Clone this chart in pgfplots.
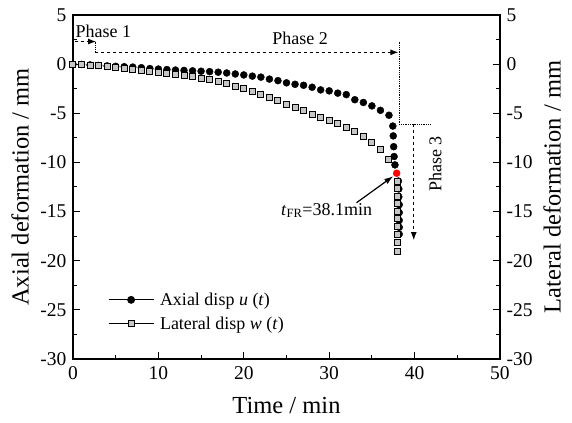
\documentclass[border=0pt]{standalone}
\usepackage{fontspec}
\setmainfont{Liberation Serif}
\usepackage{pgfplots}
\usepackage{pgfplotstable}
\pgfplotsset{compat=1.18}
\usetikzlibrary{arrows.meta,calc}

\pgfplotstableread{
t u
0 0
1 -0.03
2 -0.08
3 -0.13
4 -0.18
5 -0.22
6 -0.26
7 -0.30
8 -0.36
9 -0.45
10 -0.50
11 -0.55
12 -0.60
13 -0.64
14 -0.68
15 -0.72
16 -0.76
17 -0.82
18 -0.90
19 -1.00
20 -1.10
21 -1.22
22 -1.32
23 -1.52
24 -1.68
25 -1.90
26 -2.05
27 -2.15
28 -2.35
29 -2.62
30 -2.72
31 -2.95
32 -3.10
33 -3.62
34 -3.90
35 -4.25
36 -4.70
37 -5.20
37.45 -6.30
37.5 -7.30
37.55 -8.40
37.6 -9.40
37.7 -10.25
38.1 -11.90
38.15 -12.70
38.15 -13.50
38.2 -14.30
38.2 -15.10
38.2 -15.90
38.2 -16.60
38.2 -17.30
}\axial

\pgfplotstableread{
t w
0 0
1 -0.05
2 -0.10
3 -0.18
4 -0.26
5 -0.34
6 -0.42
7 -0.50
8 -0.60
9 -0.75
10 -0.85
11 -0.95
12 -1.05
13 -1.15
14 -1.27
15 -1.42
16 -1.60
17 -1.80
18 -2.02
19 -2.27
20 -2.52
21 -2.82
22 -3.12
23 -3.44
24 -3.75
25 -4.08
26 -4.42
27 -4.76
28 -5.12
29 -5.47
30 -5.78
31 -6.08
32 -6.40
33 -6.85
34 -7.38
35 -8.00
36 -8.72
37 -9.70
38 -11.95
38 -12.70
38 -13.45
38 -14.15
38 -15.00
38 -15.75
38 -16.50
38 -17.30
38 -18.10
38 -19.10
}\lateral

\begin{document}
\begin{tikzpicture}
\begin{axis}[
  scale only axis, width=427bp, height=344bp,
  xmin=0, xmax=50, ymin=-30, ymax=5,
  xtick={0,10,...,50}, ytick={-30,-25,...,5},
  minor x tick num=1, minor y tick num=1,
  tick align=inside, xtick pos=bottom, ytick pos=left,
  major tick length=7bp, minor tick length=4bp,
  axis line style={line width=1.2bp},
  every tick/.style={line width=1bp, black},
  tick label style={font=\fontsize{19.5bp}{22bp}\selectfont},
  xticklabel style={yshift=-4bp},
  yticklabel style={xshift=-3bp},
  /pgf/number format/assume math mode=true,
  xlabel={Time / min}, ylabel={Axial deformation / mm},
  label style={font=\fontsize{24.5bp}{27bp}\selectfont},
  xlabel style={at={(axis description cs:0.5,-0.134)}, anchor=center},
  ylabel style={at={(axis description cs:-0.124,0.5)}, anchor=center},
  legend image code/.code={\draw[mark repeat=2,mark phase=2,#1] plot coordinates {(0bp,0bp) (22.5bp,0bp) (45bp,0bp)};},
  legend style={draw=none, fill=none, inner sep=0pt,
    font=\fontsize{18bp}{21bp}\selectfont,
    at={(axis cs:4.1,-25.2)}, anchor=west, row sep=6bp, column sep=4bp},
  legend cell align=left,
]
\coordinate (sw) at (rel axis cs:0,0);
\coordinate (ne) at (rel axis cs:1,1);

\addlegendimage{black, line width=0.8bp, mark=*, mark size=3.5bp}
\addlegendentry{Axial disp \textit{u} (\textit{t})}
\addlegendimage{black, line width=0.8bp, mark=square*, mark size=3bp, mark options={fill=gray!45, draw=black, line width=1bp}}
\addlegendentry{Lateral disp \textit{w} (\textit{t})}

\addplot[forget plot, only marks, mark=*, mark size=3.5bp, black] table[x=t,y=u] {\axial};
\addplot[forget plot, only marks, mark=square*, mark size=3bp, mark options={fill=gray!45, draw=black, line width=1bp}] table[x=t,y=w] {\lateral};
\addplot[forget plot, only marks, mark=*, mark size=3.5bp, red] coordinates {(37.9,-11.1)};

\draw[dashed, line width=1bp, -{Latex[length=8bp,width=6bp]}] (axis cs:0.2,2.3) -- (axis cs:2.7,2.3);
\draw[densely dotted, line width=0.8bp] (axis cs:2.6,2.3) -- (axis cs:2.6,1.2);
\draw[dashed, line width=1bp, -{Latex[length=8bp,width=6bp]}] (axis cs:2.6,1.2) -- (axis cs:38.1,1.2);
\draw[densely dotted, line width=0.8bp] (axis cs:38.2,2.3) -- (axis cs:38.2,-6.1) -- (axis cs:41.8,-6.1);
\draw[dashed, line width=1bp, -{Latex[length=8bp,width=6bp]}] (axis cs:39.9,-6.1) -- (axis cs:39.9,-17.9);
\draw[line width=1.2bp, -{Latex[length=9bp,width=6bp]}] (axis cs:33.2,-14.1) -- (axis cs:37.5,-11.4);

\node[font=\fontsize{18bp}{21bp}\selectfont] at (axis cs:3.55,3.3) {Phase 1};
\node[font=\fontsize{18bp}{21bp}\selectfont] at (axis cs:26.6,2.6) {Phase 2};
\node[font=\fontsize{18bp}{21bp}\selectfont, rotate=90] at (axis cs:42.4,-10.15) {Phase 3};
\node[font=\fontsize{18bp}{21bp}\selectfont] at (axis cs:29.7,-14.9) {\textit{t}\textsubscript{FR}=38.1min};
\end{axis}

\begin{axis}[
  scale only axis, width=427bp, height=344bp,
  xmin=0, xmax=50, ymin=-30, ymax=5,
  axis x line=none, axis y line*=right,
  ytick={-30,-25,...,5}, minor y tick num=1,
  tick align=inside,
  major tick length=7bp, minor tick length=4bp,
  axis line style={line width=1.2bp},
  every tick/.style={line width=1bp, black},
  tick label style={font=\fontsize{19.5bp}{22bp}\selectfont},
  yticklabel style={xshift=3bp},
  /pgf/number format/assume math mode=true,
  ylabel={Lateral deformation / mm},
  label style={font=\fontsize{24.5bp}{27bp}\selectfont},
  ylabel style={at={(axis description cs:1.122,0.5)}, anchor=center},
]
\end{axis}
\pgfresetboundingbox
\path ($(sw)+(-73bp,-64bp)$) rectangle ($(ne)+(72bp,15bp)$);
\end{tikzpicture}
\end{document}
